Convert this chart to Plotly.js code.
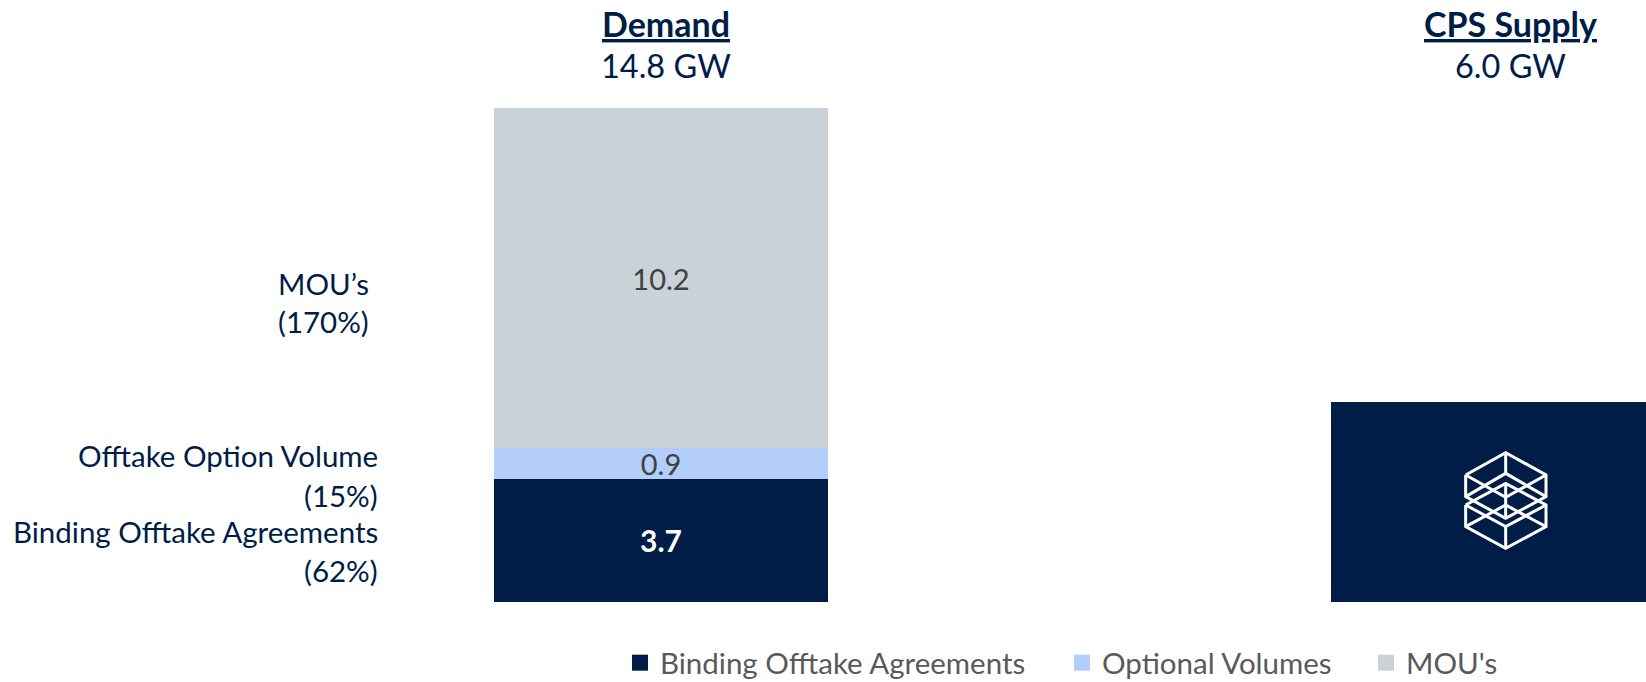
<!DOCTYPE html>
<html><head><meta charset="utf-8">
<script src="https://cdn.plot.ly/plotly-3.0.1.min.js"></script>
<style>html,body{margin:0;padding:0;background:#fff}#c{width:1646px;height:682px}</style>
</head><body><div id="c"></div>
<script>
const categories = ["Demand", "CPS Supply"];
const totals = ["14.8 GW", "6.0 GW"];
const bindingValues = [3.7, 6.0];
const optionalValues = [0.9, null];
const mouValues = [10.2, null];
const bindingText = ["3.7", ""];
const optionalText = ["0.9", ""];
const mouText = ["10.2", ""];
const seriesNames = ["Binding Offtake Agreements", "Optional Volumes", "MOU's"];
const sideLabels = ["MOU’s", "(170%)", "Offtake Option Volume", "(15%)", "Binding Offtake Agreements", "(62%)"];

const NAVY = "#001D47", BLUE = "#B3CEFA", GREY = "#C9D2D9";
const FONT = "Lato, Carlito, sans-serif";
const W = 1646, H = 682, TOP = 108, BOTTOM = 602;
const px = x => x / W;
const py = y => (BOTTOM - y) / (BOTTOM - TOP);

function barTrace(name, y, text, color, tcolor, bold) {
  return {type: "bar", name, x: categories, y, text, marker: {color, line: {width: 0}},
    textposition: "inside", insidetextanchor: "middle", textangle: 0, constraintext: "none",
    insidetextfont: {family: FONT, size: bold ? 30 : 29, color: tcolor, weight: bold ? 700 : 400},
    showlegend: false, hoverinfo: "x+y", width: 0.4};
}
function keyTrace(name, color, legend) {
  return {type: "scatter", mode: "markers", name, x: [null], y: [null], legend,
    marker: {symbol: "square", size: 16, color}, hoverinfo: "skip"};
}
const data = [
  barTrace(seriesNames[0], bindingValues, bindingText, NAVY, "#FFFFFF", true),
  barTrace(seriesNames[1], optionalValues, optionalText, BLUE, "#404040", false),
  barTrace(seriesNames[2], mouValues, mouText, GREY, "#404040", false),
  keyTrace(seriesNames[0], NAVY, "legend"),
  keyTrace(seriesNames[1], BLUE, "legend2"),
  keyTrace(seriesNames[2], GREY, "legend3")
];

function note(text, x, y, size, color, anchor) {
  return {text, xref: "paper", yref: "paper", x: px(x), y: py(y), showarrow: false,
    xanchor: anchor, yanchor: "middle", font: {family: FONT, size, color}};
}
const annotations = [
  note("<b><u>" + categories[0] + "</u></b>", 666, 23, 34, NAVY, "center"),
  note(totals[0], 666, 66, 32.5, NAVY, "center"),
  note("<b><u>" + categories[1] + "</u></b>", 1510, 23, 34, NAVY, "center"),
  note(totals[1], 1510, 66, 32.5, NAVY, "center"),
  note(sideLabels[0], 371, 283, 29.5, NAVY, "right"),
  note(sideLabels[1], 371, 321, 29.5, NAVY, "right"),
  note(sideLabels[2], 380, 455, 29.5, NAVY, "right"),
  note(sideLabels[3], 380, 495, 29.5, NAVY, "right"),
  note(sideLabels[4], 380, 531, 29.5, NAVY, "right"),
  note(sideLabels[5], 380, 570, 29.5, NAVY, "right")
];

// logo drawn on the supply bar
const logoLines = [
  [[497,255],[617,188],[738,255],[738,320],[617,385],[497,320],[497,255]],
  [[617,188],[617,250]], [[497,320],[617,250],[738,320]], [[497,255],[617,322],[738,255]],
  [[497,345],[617,280],[738,345],[738,410],[617,475],[497,410],[497,345]],
  [[617,475],[617,410]], [[497,345],[617,410],[738,345]], [[497,410],[617,345],[738,410]],
  [[617,280],[617,385]]
];
const shapes = logoLines.map(l => ({
  type: "path", xref: "paper", yref: "paper", layer: "above",
  line: {color: "#FFFFFF", width: 3},
  path: l.map((p, i) => (i ? "L" : "M") + px(1300 + p[0] / 3) + "," + py(390 + p[1] / 3)).join(" ")
}));

function legendAt(x) {
  return {orientation: "h", x: px(x), y: py(663), xanchor: "left", yanchor: "middle",
    font: {family: FONT, size: 29.5, color: "#595959"}, itemsizing: "trace",
    bgcolor: "rgba(0,0,0,0)", borderwidth: 0, itemclick: false, itemdoubleclick: false};
}
const layout = {
  width: W, height: H, margin: {l: 0, r: 0, t: TOP, b: H - BOTTOM, pad: 0, autoexpand: false},
  paper_bgcolor: "#fff", plot_bgcolor: "#fff", barmode: "stack", showlegend: true,
  xaxis: {type: "category", range: [-0.7897, 1.1769], visible: false, fixedrange: true},
  yaxis: {range: [0, 14.8], visible: false, fixedrange: true},
  legend: legendAt(620), legend2: legendAt(1062), legend3: legendAt(1366),
  annotations, shapes
};
Plotly.newPlot("c", data, layout, {displayModeBar: false, responsive: false});
</script></body></html>
